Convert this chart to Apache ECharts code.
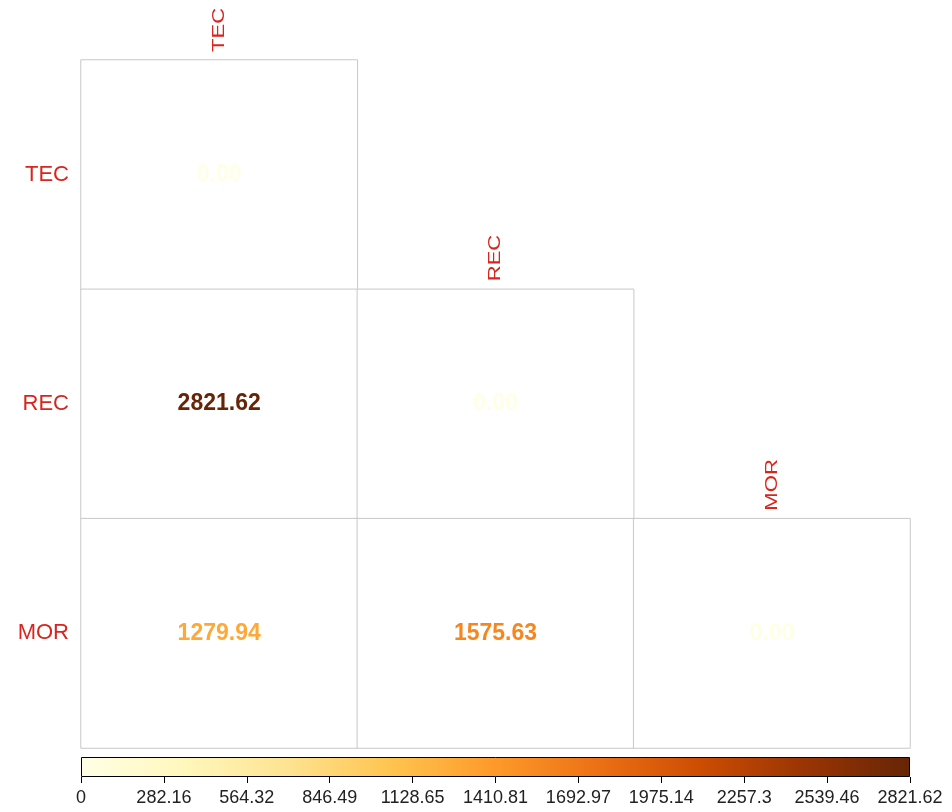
<!DOCTYPE html>
<html><head><meta charset="utf-8">
<script src="https://cdn.jsdelivr.net/npm/echarts@6/dist/echarts.min.js"></script>
<style>html,body{margin:0;padding:0;background:#fff}#c{width:952px;height:812px}</style>
</head><body><div id="c"></div>
<script>
var categories = ['TEC', 'REC', 'MOR'];
// lower-triangle cells: [colIndex, rowIndex, value]
var cellValues = [
  [0, 0, 0.00],
  [0, 1, 2821.62], [1, 1, 0.00],
  [0, 2, 1279.94], [1, 2, 1575.63], [2, 2, 0.00]
];
var colorMin = 0;
var colorMax = 2821.62;
var tickLabels = ['0', '282.16', '564.32', '846.49', '1128.65', '1410.81', '1692.97', '1975.14', '2257.3', '2539.46', '2821.62'];
var palette = ['#ffffe5', '#fff7bc', '#fee391', '#fec44f', '#fe9929', '#ec7014', '#cc4c02', '#993404', '#662506'];

function hex2rgb(h) { return [parseInt(h.substr(1, 2), 16), parseInt(h.substr(3, 2), 16), parseInt(h.substr(5, 2), 16)]; }
function colorFor(v) {
  var t = (v - colorMin) / (colorMax - colorMin);
  t = Math.max(0, Math.min(1, t));
  var p = t * (palette.length - 1);
  var i = Math.min(Math.floor(p), palette.length - 2);
  var f = p - i;
  var a = hex2rgb(palette[i]), b = hex2rgb(palette[i + 1]);
  var c = a.map(function (x, k) { return Math.round(x + (b[k] - x) * f); });
  return 'rgb(' + c.join(',') + ')';
}

var heatData = cellValues.map(function (d) {
  return { value: d, label: { color: colorFor(d[2]) } };
});
var colLabelData = categories.map(function (c, i) { return [i, i]; });
var gradStops = palette.map(function (c, i) { return { offset: i / (palette.length - 1), color: c }; });
var FONT = 'Liberation Sans, Arial, sans-serif';

var chart = echarts.init(document.getElementById('c'));
chart.setOption({
  animation: false,
  backgroundColor: '#fff',
  textStyle: { fontFamily: FONT },
  grid: [
    { left: 81, right: 42, top: 60, bottom: 64 },
    { left: 81, right: 42, top: 757, height: 20 }
  ],
  xAxis: [
    { type: 'category', data: categories, gridIndex: 0, axisLine: { show: false }, axisTick: { show: false }, axisLabel: { show: false }, splitLine: { show: false } },
    { type: 'value', gridIndex: 1, min: colorMin, max: colorMax, interval: (colorMax - colorMin) / 10, position: 'bottom',
      axisLine: { show: false },
      axisTick: { show: true, length: 6, lineStyle: { color: '#000', width: 1 } },
      splitLine: { show: false },
      axisLabel: { fontSize: 18, color: '#222', margin: 12, formatter: function (v, idx) { return tickLabels[idx] !== undefined ? tickLabels[idx] : ''; }, showMinLabel: true, showMaxLabel: true, hideOverlap: false } }
  ],
  yAxis: [
    { type: 'category', data: categories, gridIndex: 0, inverse: true, axisLine: { show: false }, axisTick: { show: false }, splitLine: { show: false },
      axisLabel: { color: '#d7261e', fontSize: 22, margin: 12 } },
    { type: 'category', data: ['bar'], gridIndex: 1, show: false }
  ],
  series: [
    {
      type: 'heatmap', xAxisIndex: 0, yAxisIndex: 0,
      data: heatData,
      itemStyle: { color: '#fff', borderColor: '#c8c8c8', borderWidth: 1 },
      label: { show: true, fontSize: 23, fontWeight: 'bold', formatter: function (p) { return p.value[2].toFixed(2); } },
      emphasis: { disabled: true }
    },
    {
      type: 'custom', xAxisIndex: 0, yAxisIndex: 0,
      data: colLabelData,
      renderItem: function (params, api) {
        var pt = api.coord([api.value(0), api.value(1)]);
        var sz = api.size([1, 1]);
        return {
          type: 'text',
          x: pt[0], y: pt[1] - sz[1] / 2 - 8,
          rotation: Math.PI / 2,
          scaleX: 1.3, scaleY: 1,
          style: { text: categories[api.value(0)], fill: '#d7261e', fontSize: 17, fontFamily: FONT, align: 'left', verticalAlign: 'middle' }
        };
      },
      silent: true
    },
    {
      type: 'bar', xAxisIndex: 1, yAxisIndex: 1,
      data: [colorMax], barWidth: '100%',
      itemStyle: { color: new echarts.graphic.LinearGradient(0, 0, 1, 0, gradStops), borderColor: '#000', borderWidth: 1 },
      silent: true
    }
  ]
});
</script></body></html>
